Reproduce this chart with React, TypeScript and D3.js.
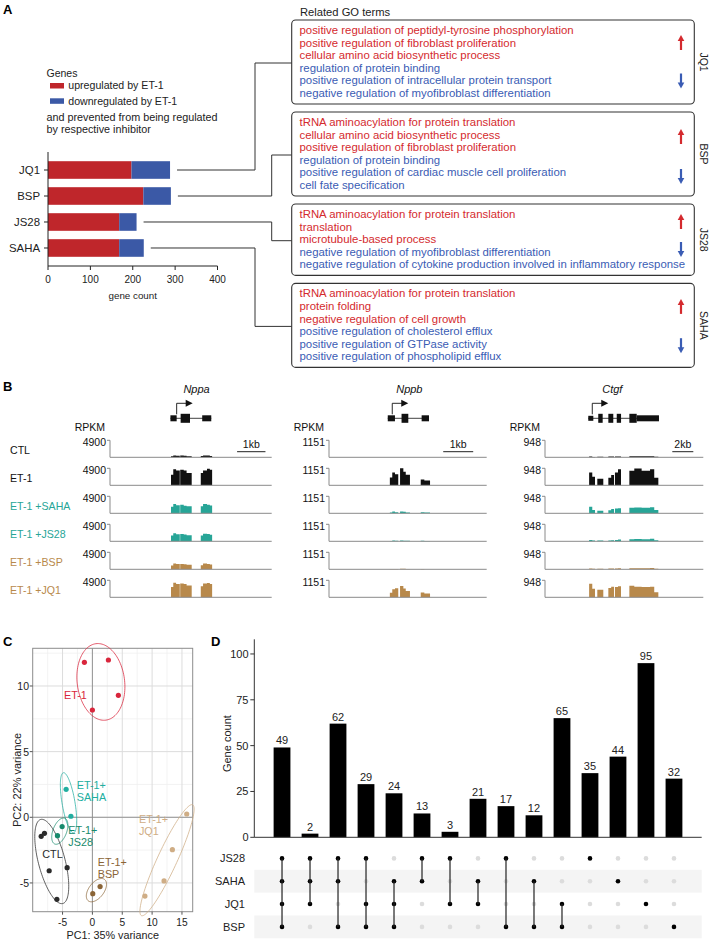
import React from "react";
import * as d3 from "d3";

const FONT = "'Liberation Sans', Arial, Helvetica, sans-serif";

// ---------------- Panel A data ----------------
const inhibitors = ["JQ1", "BSP", "JS28", "SAHA"];
const upregulated = [197, 225, 168, 168];
const downregulated = [91, 65, 41, 58];
const countTicks = [0, 100, 200, 300, 400];

const goUp = [
  ["positive regulation of peptidyl-tyrosine phosphorylation", "positive regulation of fibroblast proliferation", "cellular amino acid biosynthetic process"],
  ["tRNA aminoacylation for protein translation", "cellular amino acid biosynthetic process", "positive regulation of fibroblast proliferation"],
  ["tRNA aminoacylation for protein translation", "translation", "microtubule-based process"],
  ["tRNA aminoacylation for protein translation", "protein folding", "negative regulation of cell growth"],
];
const goDown = [
  ["regulation of protein binding", "positive regulation of intracellular protein transport", "negative regulation of myofibroblast differentiation"],
  ["regulation of protein binding", "positive regulation of cardiac muscle cell proliferation", "cell fate specification"],
  ["negative regulation of myofibroblast differentiation", "negative regulation of cytokine production involved in inflammatory response"],
  ["positive regulation of cholesterol efflux", "positive regulation of GTPase activity", "positive regulation of phospholipid efflux"],
];

// ---------------- Panel B data ----------------
const samples = ["CTL", "ET-1", "ET-1 +SAHA", "ET-1 +JS28", "ET-1 +BSP", "ET-1 +JQ1"];
const genes = ["Nppa", "Nppb", "Ctgf"];
const geneMaxRPKM = [4900, 1151, 948];
const regionLength = [5700, 5260, 15070];
const scaleBarLabel = ["1kb", "1kb", "2kb"];
const scaleBarLength = [1000, 1000, 2000];
const scaleBarStart = [4480, 3810, 12120];
const geneLabelPos = [3050, 2680, 6410];
const geneTSS = [2350, 2110, 4500];
const nppaExons = [[2130, 2350, 3], [2490, 2820, 4.5], [3250, 3570, 3]];
const nppbExons = [[1960, 2200, 3], [2420, 2645, 4.5], [3090, 3335, 3]];
const ctgfExons = [[4120, 4600, 2.5], [5070, 5490, 4.5], [6030, 6500, 4.5], [6830, 7240, 4.5], [8030, 8730, 4.5], [8730, 10850, 3]];

const nppaSegments = [[2150, 2230], [2230, 2330], [2330, 2460], [2475, 2600], [2600, 2700], [2700, 2880], [3200, 3280], [3280, 3420], [3420, 3520], [3520, 3600]];
const nppaCoverage = [
  [300, 550, 450, 500, 450, 300, 350, 550, 500, 400],
  [3050, 4650, 4300, 4500, 4250, 3550, 3550, 4250, 4800, 4500],
  [1900, 2700, 2300, 2500, 2200, 2050, 2050, 2650, 2500, 2250],
  [1700, 2300, 2050, 2100, 1950, 1750, 1700, 2200, 2100, 1900],
  [1100, 1650, 1500, 1550, 1450, 1300, 1200, 1650, 1550, 1400],
  [3000, 4200, 3850, 4000, 3800, 3400, 3200, 4000, 4100, 3800],
];
const nppbSegments = [[2030, 2110], [2110, 2200], [2200, 2310], [2370, 2480], [2480, 2560], [2560, 2700], [3060, 3180], [3180, 3370]];
const nppbCoverage = [
  [5, 10, 8, 10, 8, 5, 5, 5],
  [520, 860, 750, 1150, 920, 710, 400, 330],
  [60, 120, 70, 130, 100, 60, 70, 55],
  [25, 50, 30, 60, 45, 30, 35, 25],
  [15, 25, 15, 40, 30, 20, 15, 10],
  [300, 540, 620, 760, 600, 420, 330, 260],
];
const ctgfSegments = [[4200, 4500], [4500, 4760], [4980, 5550], [6030, 6300], [6300, 6570], [6660, 6950], [6950, 7235], [8030, 8500], [8500, 9200], [9200, 10000], [10000, 10400], [10400, 10790]];
const ctgfCoverage = [
  [40, 20, 30, 40, 45, 40, 45, 55, 65, 55, 55, 30],
  [710, 475, 360, 425, 570, 710, 900, 805, 930, 805, 900, 425],
  [360, 190, 140, 170, 240, 265, 285, 305, 330, 305, 340, 190],
  [75, 40, 40, 50, 65, 75, 95, 115, 130, 115, 140, 55],
  [45, 30, 30, 40, 45, 45, 55, 55, 65, 55, 75, 30],
  [760, 475, 425, 520, 590, 570, 615, 645, 590, 570, 590, 285],
];

// ---------------- Panel C data ----------------
const pcaGroupNames = ["ET-1", "SAHA", "JS28", "CTL", "BSP", "JQ1"];
const pcaLabels = [["ET-1"], ["ET-1+", "SAHA"], ["ET-1+", "JS28"], ["CTL"], ["ET-1+", "BSP"], ["ET-1+", "JQ1"]];
const pcaLabelX = [-4.76, -2.63, -4.04, -8.39, 0.89, 7.8];
const pcaLabelY = [9.31, 2.46, -0.96, -2.82, -3.43, -0.15];
const pcaPointGroup = ["ET-1", "ET-1", "ET-1", "ET-1", "SAHA", "SAHA", "JS28", "JS28", "CTL", "CTL", "CTL", "CTL", "CTL", "BSP", "BSP", "JQ1", "JQ1", "JQ1", "JQ1"];
const pc1 = [-1.34, 2.68, 4.35, 0.0, -4.4, -3.6, -5.07, -5.85, -8.58, -8.03, -7.24, -4.23, -5.95, 0.06, 1.29, 15.8, 13.4, 12.0, 8.8];
const pc2 = [11.8, 11.98, 9.29, 8.17, 2.13, 0.08, -0.71, -1.4, -1.45, -1.22, -4.07, -3.84, -6.25, -5.82, -5.28, 0.25, -2.47, -4.85, -6.0];
const pc1Ticks = [-5, 0, 5, 10, 15];
const pc2Ticks = [-5, 0, 5, 10];

// ---------------- Panel D data ----------------
const setNames = ["JS28", "SAHA", "JQ1", "BSP"];
const intersectionCounts = [49, 2, 62, 29, 24, 13, 3, 21, 17, 12, 65, 35, 44, 95, 32];
const intersectionSets = [
  ["JS28", "SAHA", "JQ1", "BSP"],
  ["JS28", "SAHA", "JQ1"],
  ["JS28", "SAHA", "BSP"],
  ["JS28", "JQ1", "BSP"],
  ["SAHA", "JQ1", "BSP"],
  ["JS28", "SAHA"],
  ["JS28", "JQ1"],
  ["SAHA", "JQ1"],
  ["JS28", "BSP"],
  ["SAHA", "BSP"],
  ["JQ1", "BSP"],
  ["JS28"],
  ["SAHA"],
  ["JQ1"],
  ["BSP"],
];
const geneCountTicks = [0, 25, 50, 75, 100];

// ---------------- styles ----------------
const RED_BAR = "#bf262b";
const BLUE_BAR = "#3b59a6";
const RED_TXT = "#d42a2e";
const BLUE_TXT = "#3a5cb4";
const TEAL = "#27a597";
const TAN = "#b8894b";
const sampleColors = ["#111", "#111", TEAL, TEAL, TAN, TAN];
const pcaColors: Record<string, string> = {
  "ET-1": "#d9263c",
  SAHA: "#21aea0",
  JS28: "#178a6c",
  CTL: "#2b2b2b",
  BSP: "#8a6436",
  JQ1: "#cfad85",
};

function PanelA() {
  const x = d3.scaleLinear().domain([0, 400]).range([48, 217.5]);
  const y = d3.scaleBand().domain(inhibitors).range([152, 266]).paddingInner(0.323).paddingOuter(0.354);
  const totals = upregulated.map((u, i) => u + downregulated[i]);
  const lineH = 12.6;
  let top = 20;
  const boxes = inhibitors.map((name, i) => {
    const n = goUp[i].length + goDown[i].length;
    const h = 10 + (n - 1) * lineH + 11;
    const b = { name, top, h, n };
    top += h + 8;
    return b;
  });
  const boxX0 = 291.7;
  const boxX1 = 694.3;
  const elbowX = [255, 271.7, 271.7, 255];
  const arrowUpOffset = [22.5, 24.5, 17.5, 23];
  const arrowDownOffset = [61, 64.5, 45.5, 62.3];
  const textX = 299.5;
  const arrowX = 681;

  const arrow = (cy: number, color: string, dir: number) => {
    const half = 7.5;
    const tipY = cy - dir * half;
    const tailY = cy + dir * half;
    return (
      <g>
        <line x1={arrowX} x2={arrowX} y1={tailY} y2={tipY + dir * 4} stroke={color} strokeWidth={2.2} />
        <polygon points={`${arrowX},${tipY} ${arrowX - 3.3},${tipY + dir * 6} ${arrowX + 3.3},${tipY + dir * 6}`} fill={color} />
      </g>
    );
  };

  return (
    <g>
      <text x={3} y={14} fontSize={13} fontWeight="bold">A</text>
      {/* legend */}
      <text x={46.5} y={77} fontSize={10.5} fill="#222">Genes</text>
      <rect x={50} y={83} width={14} height={5.5} fill={RED_BAR} />
      <text x={68.3} y={89.2} fontSize={10.6} fill="#222">upregulated by ET-1</text>
      <rect x={50} y={98.3} width={14} height={5.5} fill={BLUE_BAR} />
      <text x={68.3} y={104.5} fontSize={10.6} fill="#222">downregulated by ET-1</text>
      <text x={46.5} y={120.5} fontSize={10.8} fill="#222">and prevented from being regulated</text>
      <text x={46.5} y={133} fontSize={10.8} fill="#222">by respective inhibitor</text>

      {/* bars */}
      {inhibitors.map((g, i) => (
        <g key={g}>
          <rect x={x(0)} y={y(g)!} width={x(upregulated[i]) - x(0)} height={y.bandwidth()} fill={RED_BAR} />
          <rect x={x(upregulated[i])} y={y(g)!} width={x(totals[i]) - x(upregulated[i])} height={y.bandwidth()} fill={BLUE_BAR} />
        </g>
      ))}
      {/* axes */}
      <line x1={48} x2={48} y1={152} y2={266} stroke="#222" />
      <line x1={48} x2={217.5} y1={266} y2={266} stroke="#222" />
      {inhibitors.map((g) => {
        const cy = y(g)! + y.bandwidth() / 2;
        return (
          <g key={g}>
            <line x1={44} x2={48} y1={cy} y2={cy} stroke="#222" />
            <text x={40} y={cy + 4} fontSize={11.4} textAnchor="end" fill="#222">{g}</text>
          </g>
        );
      })}
      {countTicks.map((t) => (
        <g key={t}>
          <line x1={x(t)} x2={x(t)} y1={266} y2={270} stroke="#222" />
          <text x={x(t)} y={282.5} fontSize={10} textAnchor="middle" fill="#222">{t}</text>
        </g>
      ))}
      <text x={x(200)} y={298.5} fontSize={9.8} textAnchor="middle" fill="#222">gene count</text>

      {/* connectors */}
      {inhibitors.map((g, i) => {
        const cy = y(g)! + y.bandwidth() / 2;
        const by = boxes[i].top + boxes[i].h / 2 + 1;
        const sx = x(totals[i]) + 7;
        return (
          <path key={g} d={`M${sx},${cy}H${elbowX[i]}V${by}H${boxX0}`} fill="none" stroke="#333" strokeWidth={1} />
        );
      })}

      <text x={300} y={16} fontSize={11.2} fill="#222">Related GO terms</text>
      {boxes.map((b, i) => {
        const lines = [...goUp[i].map((t) => ({ t, c: RED_TXT })), ...goDown[i].map((t) => ({ t, c: BLUE_TXT }))];
        return (
          <g key={b.name}>
            <rect x={boxX0} y={b.top} width={boxX1 - boxX0} height={b.h} rx={4} fill="none" stroke="#333" strokeWidth={1.1} />
            {lines.map((l, k) => (
              <text key={k} x={textX} y={b.top + 10 + k * lineH + 4} fontSize={11.4} fill={l.c}>{l.t}</text>
            ))}
            {arrow(b.top + arrowUpOffset[i], RED_TXT, 1)}
            {arrow(b.top + arrowDownOffset[i], BLUE_TXT, -1)}
            <text transform={`translate(699.5,${b.top + b.h / 2}) rotate(90)`} fontSize={10.5} textAnchor="middle" fill="#222">{b.name}</text>
          </g>
        );
      })}
    </g>
  );
}

function coveragePath(segs: number[][], vals: number[], x: (v: number) => number, yv: (v: number) => number) {
  const pts: [number, number][] = [];
  segs.forEach((seg, k) => {
    const contPrev = k > 0 && segs[k - 1][1] === seg[0];
    const contNext = k < segs.length - 1 && segs[k + 1][0] === seg[1];
    if (!contPrev) pts.push([x(seg[0]), yv(0)]);
    pts.push([x(seg[0]), yv(vals[k])]);
    pts.push([x(seg[1]), yv(vals[k])]);
    if (!contNext) pts.push([x(seg[1]), yv(0)]);
  });
  return d3.line()(pts)! + "Z";
}

function PanelB() {
  const axisX = [110, 329, 545];
  const rangeEnd = [271.7, 486.7, 703.3];
  const exonsList = [nppaExons, nppbExons, ctgfExons];
  const segList = [nppaSegments, nppbSegments, ctgfSegments];
  const covList = [nppaCoverage, nppbCoverage, ctgfCoverage];
  const baseline0 = 457.3;
  const trackStep = 28;
  const trackH = 17;
  const modelY = 418.3;
  return (
    <g>
      <text x={3} y={391} fontSize={13} fontWeight="bold">B</text>
      {samples.map((s, si) => (
        <text key={s} x={10} y={baseline0 + si * trackStep - 3.5} fontSize={10.6} fill={sampleColors[si]}>{s}</text>
      ))}
      {genes.map((g, gi) => {
        const x = d3.scaleLinear().domain([0, regionLength[gi]]).range([axisX[gi], rangeEnd[gi]]);
        const tss = x(geneTSS[gi]);
        const exons = exonsList[gi];
        const first = x(exons[0][0]);
        const last = x(exons[exons.length - 1][1]);
        return (
          <g key={g}>
            <text x={x(geneLabelPos[gi])} y={393} fontSize={11} fontStyle="italic" textAnchor="middle" fill="#111">{g}</text>
            <line x1={first} x2={last} y1={modelY} y2={modelY} stroke="#111" strokeWidth={0.8} />
            {exons.map((e, k) => (
              <rect key={k} x={x(e[0])} y={modelY - e[2]} width={x(e[1]) - x(e[0])} height={e[2] * 2} fill="#111" />
            ))}
            <path d={`M${tss},${modelY - 4}V${modelY - 15}H${tss + 10}`} fill="none" stroke="#111" strokeWidth={0.9} />
            <polygon points={`${tss + 16},${modelY - 15} ${tss + 9},${modelY - 18.5} ${tss + 9},${modelY - 11.5}`} fill="#111" />
            <text x={axisX[gi] - 5} y={431} fontSize={10.5} textAnchor="end" fill="#111">RPKM</text>
            <line x1={x(scaleBarStart[gi])} x2={x(scaleBarStart[gi] + scaleBarLength[gi])} y1={451.7} y2={451.7} stroke="#222" strokeWidth={1} />
            <text x={x(scaleBarStart[gi] + scaleBarLength[gi] / 2)} y={448} fontSize={10.5} textAnchor="middle" fill="#111">{scaleBarLabel[gi]}</text>
            {samples.map((s, si) => {
              const base = baseline0 + si * trackStep;
              const yv = d3.scaleLinear().domain([0, geneMaxRPKM[gi]]).range([base, base - trackH]);
              return (
                <g key={s}>
                  <path d={coveragePath(segList[gi], covList[gi][si], x, yv)} fill={sampleColors[si]} />
                  <line x1={axisX[gi]} x2={rangeEnd[gi]} y1={base} y2={base} stroke="#8a8a8a" strokeWidth={1} />
                  <path d={`M${axisX[gi] - 3},${yv(geneMaxRPKM[gi])}H${axisX[gi]}V${base}`} fill="none" stroke="#8a8a8a" strokeWidth={1} />
                  <text x={axisX[gi] - 4} y={yv(geneMaxRPKM[gi]) + 6} fontSize={10.5} textAnchor="end" fill="#111">{geneMaxRPKM[gi]}</text>
                </g>
              );
            })}
          </g>
        );
      })}
    </g>
  );
}

function ellipsePath(xs: number[], ys: number[], sx: d3.ScaleLinear<number, number>, sy: d3.ScaleLinear<number, number>) {
  const n = xs.length;
  const mx = d3.mean(xs)!;
  const my = d3.mean(ys)!;
  let a = 0, b = 0, c = 0;
  for (let i = 0; i < n; i++) {
    a += (xs[i] - mx) ** 2;
    b += (xs[i] - mx) * (ys[i] - my);
    c += (ys[i] - my) ** 2;
  }
  a = a / (n - 1) + 0.5;
  b = b / (n - 1);
  c = c / (n - 1) + 0.2;
  const l11 = Math.sqrt(a);
  const l21 = b / l11;
  const l22 = Math.sqrt(Math.max(c - l21 * l21, 1e-6));
  const r = Math.sqrt(-2 * Math.log(1 - 0.68));
  const pts: [number, number][] = d3.range(0, 120).map((k) => {
    const t = (k / 120) * Math.PI * 2;
    const ex = mx + r * l11 * Math.cos(t);
    const ey = my + r * (l21 * Math.cos(t) + l22 * Math.sin(t));
    return [sx(ex), sy(ey)];
  });
  return d3.line().curve(d3.curveLinearClosed)(pts)!;
}

function PanelC() {
  const left = 32.7, right = 192.7, top = 648.3, bottom = 911.7;
  const x = d3.scaleLinear().domain([-10, 16.8]).range([left, right]);
  const y = d3.scaleLinear().domain([-7.19, 12.87]).range([bottom, top]);
  const xMinor = [-7.5, -2.5, 2.5, 7.5, 12.5];
  const yMinor = [-2.5, 2.5, 7.5, 12.5];
  return (
    <g>
      <text x={3} y={646} fontSize={13} fontWeight="bold">C</text>
      <rect x={left} y={top} width={right - left} height={bottom - top} fill="#fff" />
      {xMinor.map((v) => <line key={"xm" + v} x1={x(v)} x2={x(v)} y1={top} y2={bottom} stroke="#f0f0f0" strokeWidth={0.8} />)}
      {yMinor.map((v) => <line key={"ym" + v} y1={y(v)} y2={y(v)} x1={left} x2={right} stroke="#f0f0f0" strokeWidth={0.8} />)}
      {pc1Ticks.map((v) => <line key={"xM" + v} x1={x(v)} x2={x(v)} y1={top} y2={bottom} stroke="#dcdcdc" strokeWidth={1} />)}
      {pc2Ticks.map((v) => <line key={"yM" + v} y1={y(v)} y2={y(v)} x1={left} x2={right} stroke="#dcdcdc" strokeWidth={1} />)}
      <line x1={x(0)} x2={x(0)} y1={top} y2={bottom} stroke="#8c8c8c" strokeWidth={0.9} />
      <line y1={y(0)} y2={y(0)} x1={left} x2={right} stroke="#8c8c8c" strokeWidth={0.9} />
      <rect x={left} y={top} width={right - left} height={bottom - top} fill="none" stroke="#8c8c8c" strokeWidth={1} />
      {pcaGroupNames.map((g) => {
        const idx = pcaPointGroup.map((pg, i) => (pg === g ? i : -1)).filter((i) => i >= 0);
        return (
          <path key={"e" + g} d={ellipsePath(idx.map((i) => pc1[i]), idx.map((i) => pc2[i]), x, y)} fill="none" stroke={pcaColors[g]} strokeOpacity={0.75} strokeWidth={1} />
        );
      })}
      {pc1.map((v, i) => (
        <circle key={i} cx={x(v)} cy={y(pc2[i])} r={2.6} fill={pcaColors[pcaPointGroup[i]]} />
      ))}
      {pcaGroupNames.map((g, gi) => (
        <text key={"l" + g} x={x(pcaLabelX[gi])} y={y(pcaLabelY[gi]) + 4} fontSize={10.8} fill={pcaColors[g]}>
          {pcaLabels[gi].map((ln, k) => (
            <tspan key={k} x={x(pcaLabelX[gi])} dy={k === 0 ? 0 : 11.7}>{ln}</tspan>
          ))}
        </text>
      ))}
      {pc1Ticks.map((v) => (
        <g key={"xt" + v}>
          <line x1={x(v)} x2={x(v)} y1={bottom} y2={bottom + 3} stroke="#555" />
          <text x={x(v)} y={926} fontSize={10.2} textAnchor="middle" fill="#222">{v}</text>
        </g>
      ))}
      {pc2Ticks.map((v) => (
        <g key={"yt" + v}>
          <line x1={left - 3} x2={left} y1={y(v)} y2={y(v)} stroke="#555" />
          <text x={29} y={y(v) + 4} fontSize={10.5} textAnchor="end" fill="#222">{v}</text>
        </g>
      ))}
      <text x={(left + right) / 2} y={938.8} fontSize={10.8} textAnchor="middle" fill="#222">PC1: 35% variance</text>
      <text transform={`translate(20.5,${(top + bottom) / 2}) rotate(-90)`} fontSize={11} textAnchor="middle" fill="#222">PC2: 22% variance</text>
    </g>
  );
}

function PanelD() {
  const left = 254.3, right = 701.7, base = 837.3;
  const y = d3.scaleLinear().domain([0, 108]).range([base, 639.3]);
  const idx = intersectionCounts.map((_, i) => String(i));
  const x = d3.scaleBand().domain(idx).range([left, right]).paddingInner(0.4).paddingOuter(0.69);
  const row = d3.scaleBand().domain(setNames).range([847, 938.3]);
  return (
    <g>
      <text x={211} y={646} fontSize={13} fontWeight="bold">D</text>
      {intersectionCounts.map((v, i) => (
        <g key={i}>
          <rect x={x(String(i))!} y={y(v)} width={x.bandwidth()} height={base - y(v)} fill="#000" />
          <text x={x(String(i))! + x.bandwidth() / 2} y={y(v) - 3} fontSize={11} textAnchor="middle" fill="#222">{v}</text>
        </g>
      ))}
      <line x1={left} x2={left} y1={639.3} y2={base} stroke="#333" />
      <line x1={left} x2={right} y1={base} y2={base} stroke="#333" />
      {geneCountTicks.map((t) => (
        <g key={t}>
          <line x1={left - 4} x2={left} y1={y(t)} y2={y(t)} stroke="#333" />
          <text x={248.5} y={y(t) + 4} fontSize={11} textAnchor="end" fill="#222">{t}</text>
        </g>
      ))}
      <text transform={`translate(230.5,${(y(0) + y(100)) / 2 - 2}) rotate(-90)`} fontSize={11} textAnchor="middle" fill="#222">Gene count</text>
      {setNames.map((s, si) => (
        <g key={s}>
          {si % 2 === 1 && <rect x={left} y={row(s)!} width={right - left} height={row.bandwidth()} fill="#f4f4f4" />}
          <text x={245} y={row(s)! + row.bandwidth() / 2 + 4} fontSize={11} textAnchor="end" fill="#222">{s}</text>
        </g>
      ))}
      {intersectionSets.map((sets, i) => {
        const cx = x(String(i))! + x.bandwidth() / 2;
        const ys = sets.map((s) => row(s)! + row.bandwidth() / 2);
        return (
          <g key={i}>
            {setNames.map((s) => (
              <circle key={s} cx={cx} cy={row(s)! + row.bandwidth() / 2} r={2.3} fill={sets.includes(s) ? "#000" : "#dcdcdc"} />
            ))}
            {sets.length > 1 && <line x1={cx} x2={cx} y1={d3.min(ys)!} y2={d3.max(ys)!} stroke="#222" strokeWidth={1.2} />}
          </g>
        );
      })}
    </g>
  );
}

export default function App() {
  return (
    <svg width={709} height={941} style={{ position: "absolute", left: 0, top: 0, background: "#fff" }} fontFamily={FONT}>
      <rect width={709} height={941} fill="#fff" />
      <PanelA />
      <PanelB />
      <PanelC />
      <PanelD />
    </svg>
  );
}
